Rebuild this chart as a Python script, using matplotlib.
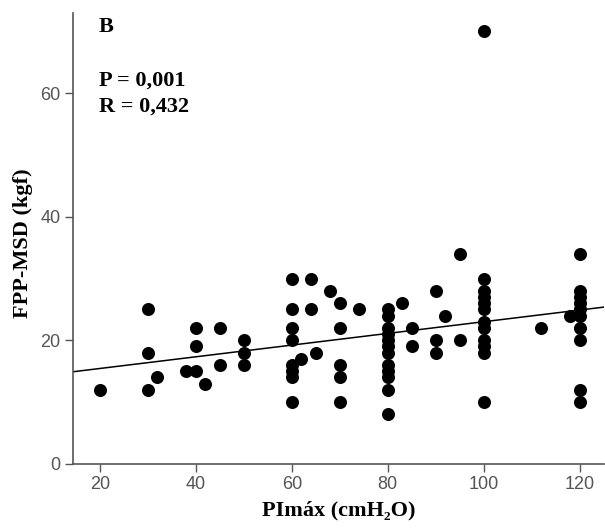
import numpy as np
import matplotlib
matplotlib.use("Agg")
import matplotlib.pyplot as plt

# PImax (cmH2O) vs FPP-MSD (kgf)
pimax = [20, 30, 30, 30, 32, 38, 40, 40, 40, 42, 45, 45, 50, 50, 50,
         60, 60, 60, 60, 60, 60, 60, 60, 62, 64, 64, 65, 68,
         70, 70, 70, 70, 70, 74,
         80, 80, 80, 80, 80, 80, 80, 80, 80, 80, 80, 80,
         83, 85, 85, 90, 90, 90, 92, 95, 95,
         100, 100, 100, 100, 100, 100, 100, 100, 100, 100, 100, 100,
         112, 118,
         120, 120, 120, 120, 120, 120, 120, 120, 120, 120]
fpp = [12, 25, 18, 12, 14, 15, 15, 22, 19, 13, 22, 16, 20, 18, 16,
       30, 25, 22, 20, 16, 15, 14, 10, 17, 30, 25, 18, 28,
       26, 22, 16, 14, 10, 25,
       25, 24, 22, 21, 20, 19, 18, 16, 15, 14, 12, 8,
       26, 22, 19, 28, 20, 18, 24, 34, 20,
       70, 30, 28, 27, 26, 25, 23, 22, 20, 19, 18, 10,
       22, 24,
       34, 28, 27, 26, 25, 24, 22, 20, 12, 10]

p_text = "P = 0,001"
r_text = "R = 0,432"

x = np.array(pimax, dtype=float)
y = np.array(fpp, dtype=float)
slope, intercept = np.polyfit(x, y, 1)

fig = plt.figure(figsize=(6.05, 5.32), dpi=100)
ax = fig.add_axes([0.1207, 0.128, 0.877, 0.848])

ax.scatter(x, y, s=88, color="black", zorder=3, linewidths=0)
xl = np.array([14.4, 125.0])
ax.plot(xl, intercept + slope * xl, color="black", lw=1.1, zorder=2)

ax.set_xlim(14.4, 125)
ax.set_ylim(0, 73)
ax.set_xticks([20, 40, 60, 80, 100, 120])
ax.set_yticks([0, 20, 40, 60])

for side in ["top", "right"]:
    ax.spines[side].set_visible(False)
for side in ["left", "bottom"]:
    ax.spines[side].set_color("#555555")
    ax.spines[side].set_linewidth(1.2)
ax.tick_params(direction="out", length=6, width=1.0, color="#555555",
               labelcolor="#555555", labelsize=13, pad=3)
for lab in ax.get_xticklabels() + ax.get_yticklabels():
    lab.set_fontfamily("Liberation Sans")

serif = "Liberation Serif"
ax.set_xlabel("PImáx (cmH₂O)", fontfamily=serif, fontweight="bold",
              fontsize=16, labelpad=5)
ax.set_ylabel("FPP-MSD (kgf)", fontfamily=serif, fontweight="bold",
              fontsize=16)
ax.yaxis.set_label_coords(-0.075, 0.49)

ax.text(0.049, 0.958, "B", transform=ax.transAxes, fontfamily=serif,
        fontweight="bold", fontsize=16, va="baseline")
ax.text(0.049, 0.838, p_text, transform=ax.transAxes, fontfamily=serif,
        fontweight="bold", fontsize=16, va="baseline")
ax.text(0.049, 0.7805, r_text, transform=ax.transAxes, fontfamily=serif,
        fontweight="bold", fontsize=16, va="baseline")

fig.savefig("out.png", dpi=100)
